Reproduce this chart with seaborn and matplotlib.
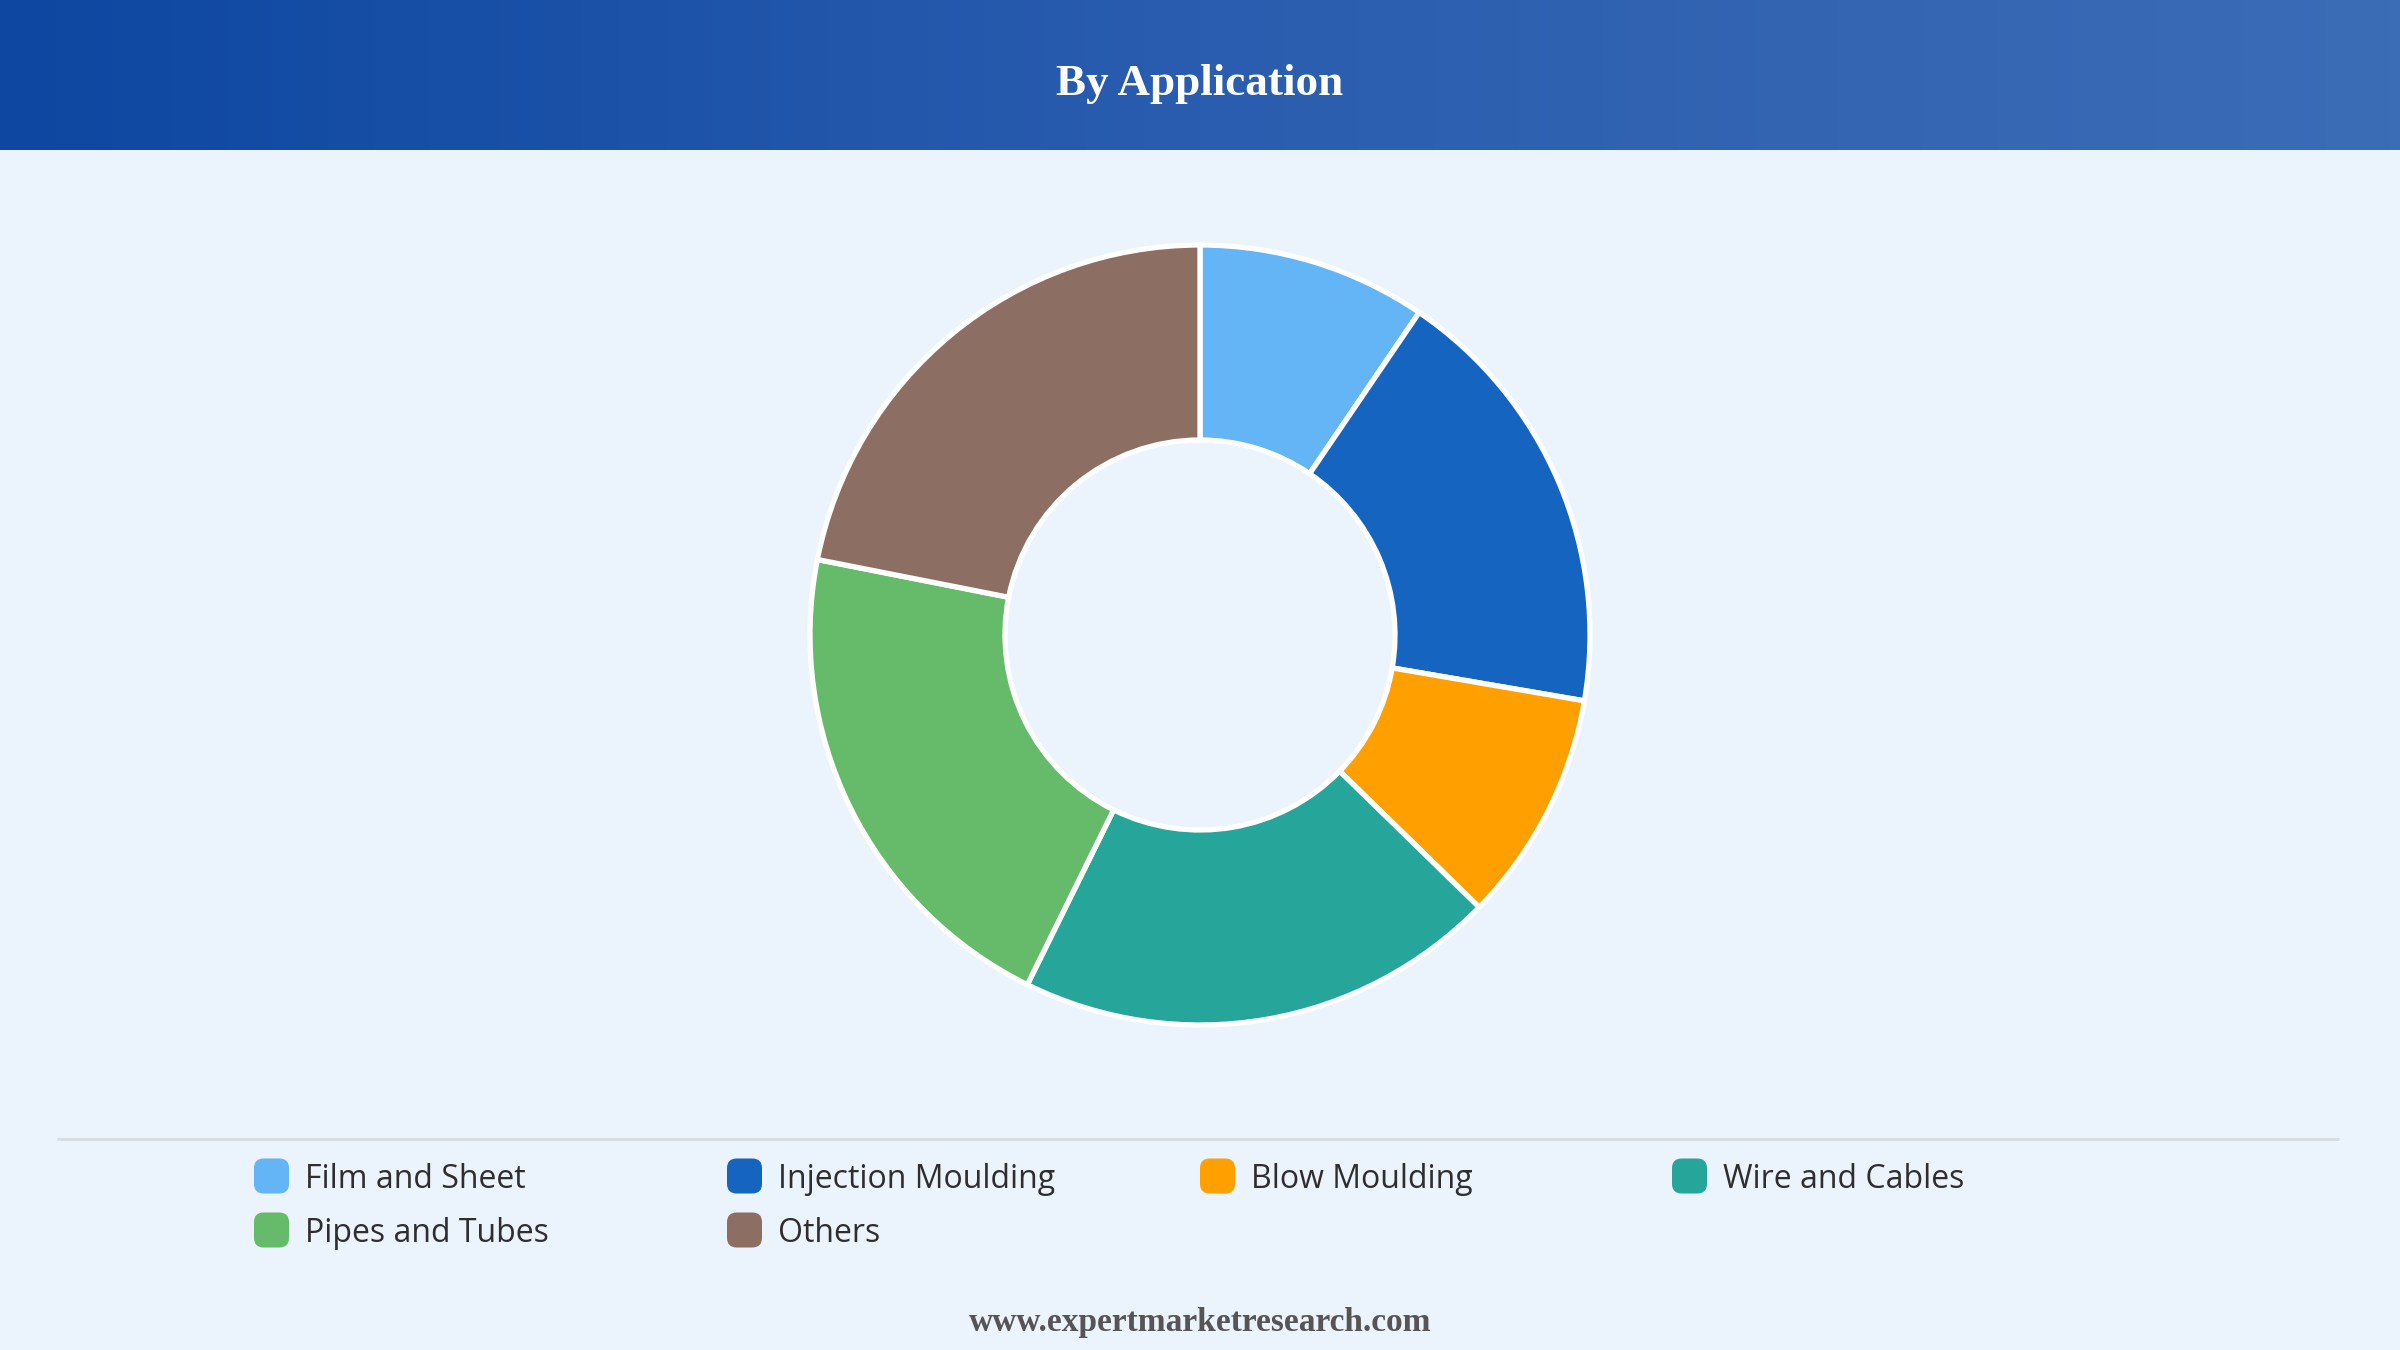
import matplotlib
matplotlib.use("Agg")
import matplotlib.pyplot as plt
import matplotlib.patches as mpatches
import numpy as np
import seaborn as sns

categories = ["Film and Sheet", "Injection Moulding", "Blow Moulding",
              "Wire and Cables", "Pipes and Tubes", "Others"]
shares = [9.5, 18.2, 9.6, 20.0, 20.8, 21.9]
colors = ["#64B5F6", "#1565C0", "#FFA000", "#26A69A", "#66BB6A", "#8D6E63"]

title = "By Application"
footer = "www.expertmarketresearch.com"

sns.set_theme(style="white")
plt.rcParams["font.family"] = ["Open Sans", "DejaVu Sans"]

W, H = 2400, 1350
fig = plt.figure(figsize=(W / 100, H / 100), dpi=100)
fig.patch.set_facecolor("#EBF3FC")

# header band with horizontal gradient
head_h = 150
ax_head = fig.add_axes([0, 1 - head_h / H, 1, head_h / H])
grad = np.linspace(0, 1, 256).reshape(1, -1)
cmap = matplotlib.colors.LinearSegmentedColormap.from_list(
    "hdr", ["#0D47A1", "#2A5DAF", "#3B6CB6"])
ax_head.imshow(grad, aspect="auto", cmap=cmap, extent=[0, 1, 0, 1])
ax_head.set_axis_off()
ax_head.text(0.5, 0.44, title, ha="center", va="center", color="white",
             fontsize=32.5, fontweight="bold", family=["Liberation Serif", "DejaVu Serif"])

# donut
cx, cy, R = 1200, H - 635, 390
ax = fig.add_axes([(cx - R) / W, (cy - R) / H, 2 * R / W, 2 * R / H])
ax.set_facecolor("none")
wedges, _ = ax.pie(shares, colors=colors, startangle=90, counterclock=False,
                   radius=1, wedgeprops=dict(width=0.5, edgecolor="white", linewidth=3.8))
for w in wedges:
    w.set_clip_on(False)
ax.set_xlim(-1, 1)
ax.set_ylim(-1, 1)
ax.set_aspect("equal")
ax.set_axis_off()

# separator line
fig.add_artist(plt.Line2D([58 / W, 2338 / W], [1 - 1139 / H] * 2,
                          color="#D8DDE3", linewidth=2.2))

# legend, 4 columns
col_x = [254, 727, 1200, 1672]
row_y = [1176, 1230]
sq = 35
for i, (name, c) in enumerate(zip(categories, colors)):
    x = col_x[i % 4]
    y = row_y[i // 4]
    box = mpatches.FancyBboxPatch(
        ((x) / W, 1 - (y + sq / 2) / H), sq / W, sq / H,
        boxstyle=mpatches.BoxStyle("Round", pad=0, rounding_size=0.004),
        transform=fig.transFigure, facecolor=c, edgecolor="none", mutation_aspect=W / H)
    fig.add_artist(box)
    fig.text((x + sq + 16) / W, 1 - (y + 3) / H, name, ha="left", va="center",
             fontsize=23, color="#2E2E2E")

fig.text(0.5, 1 - 1323 / H, footer, ha="center", va="center", color="#555555",
         fontsize=24, fontweight="bold", family=["Liberation Serif", "DejaVu Serif"])

fig.savefig("out.png", dpi=100, facecolor=fig.get_facecolor())
